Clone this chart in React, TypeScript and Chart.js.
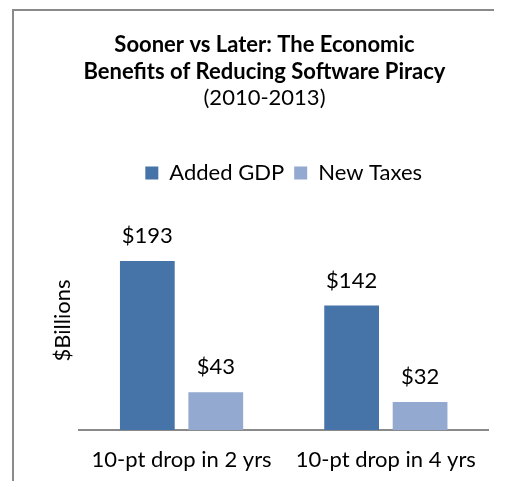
import React, { useEffect, useRef } from "react";
import { Chart, registerables } from "chart.js";

Chart.register(...registerables);

const categories = ["10-pt drop in 2 yrs", "10-pt drop in 4 yrs"];
const seriesNames = ["Added GDP", "New Taxes"];
const addedGdp = [193, 142];
const newTaxes = [43, 32];
const titleLines = ["Sooner vs Later: The Economic", "Benefits of Reducing Software Piracy"];
const subtitleText = "(2010-2013)";
const yAxisLabel = "$Billions";
const yMax = 250;

const FONT = "Lato";
const SIZE = 22;

const dataLabels = {
  id: "dataLabels",
  afterDatasetsDraw(chart: any) {
    const ctx = chart.ctx;
    ctx.save();
    ctx.font = `${SIZE}px ${FONT}`;
    ctx.fillStyle = "#000";
    ctx.textAlign = "center";
    ctx.textBaseline = "alphabetic";
    chart.data.datasets.forEach((ds: any, i: number) => {
      const meta = chart.getDatasetMeta(i);
      meta.data.forEach((el: any, j: number) => {
        ctx.fillText("$" + ds.data[j], el.x, el.y - 18);
      });
    });
    ctx.restore();
  },
};

const legendSpace = {
  id: "legendSpace",
  afterInit(chart: any) {
    const lg = chart.legend;
    if (lg && !lg.__patched) {
      const orig = lg.fit;
      lg.fit = function () {
        orig.call(this);
        this.height += 17;
      };
      lg.__patched = true;
    }
  },
};

export default function App() {
  const ref = useRef<HTMLCanvasElement>(null);
  useEffect(() => {
    if (!ref.current) return;
    Chart.defaults.color = "#000";
    const chart = new Chart(ref.current, {
      type: "bar",
      data: {
        labels: categories,
        datasets: [
          { label: seriesNames[0], data: addedGdp, backgroundColor: "#4673A8" },
          { label: seriesNames[1], data: newTaxes, backgroundColor: "#94A9CF" },
        ],
      },
      options: {
        responsive: false,
        animation: false,
        events: [],
        layout: { padding: { top: 0, left: 41, right: 20, bottom: 0 } },
        datasets: { bar: { categoryPercentage: 0.67, barPercentage: 0.8 } } as any,
        plugins: {
          title: {
            display: true,
            text: titleLines,
            font: { family: FONT, size: SIZE, weight: "bold", lineHeight: 27 / SIZE },
            color: "#000",
            padding: { top: 31, bottom: 0 },
          },
          subtitle: {
            display: true,
            text: subtitleText,
            font: { family: FONT, size: SIZE, lineHeight: 25 / SIZE },
            color: "#000",
            padding: { top: 0, bottom: 42 },
          },
          legend: {
            display: true,
            fullSize: false,
            labels: {
              boxWidth: 13,
              boxHeight: 13,
              padding: 10,
              color: "#000",
              font: { family: FONT, size: SIZE },
            },
          },
          tooltip: { enabled: false },
        },
        scales: {
          x: {
            grid: { display: false, drawTicks: false },
            border: { display: true, color: "#8a8a8a", width: 2 },
            ticks: { color: "#000", font: { family: FONT, size: SIZE }, padding: 17 },
            afterFit: (scale: any) => {
              scale.height = 57;
            },
          },
          y: {
            min: 0,
            max: yMax,
            grid: { display: false, drawTicks: false },
            border: { display: false },
            ticks: { display: false },
            title: {
              display: true,
              text: yAxisLabel,
              color: "#000",
              font: { family: FONT, size: SIZE },
              padding: { top: 9, bottom: 3 },
            },
          },
        },
      },
      plugins: [dataLabels, legendSpace],
    });
    return () => chart.destroy();
  }, []);
  return (
    <>
      <div
        style={{
          position: "fixed",
          left: 12,
          top: 9,
          width: 480,
          height: 470,
          borderLeft: "2px solid #8a8a8a",
          borderTop: "2px solid #8a8a8a",
        }}
      />
      <canvas
        ref={ref}
        width={508}
        height={487}
        style={{ position: "fixed", left: 0, top: 0, width: 508, height: 487 }}
      />
    </>
  );
}
